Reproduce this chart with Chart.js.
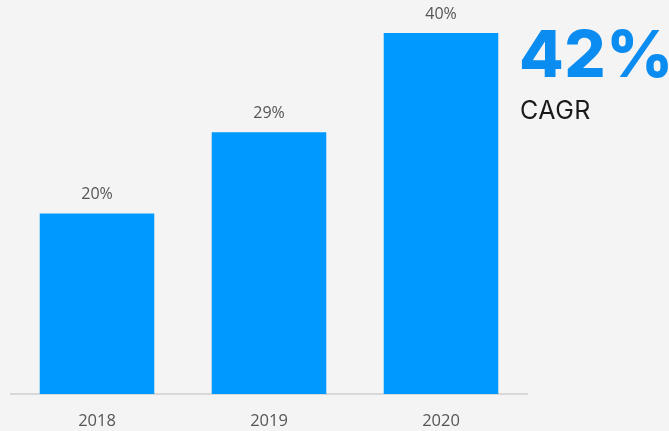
<!DOCTYPE html>
<html>
<head>
<meta charset="utf-8">
<script src="https://cdn.jsdelivr.net/npm/chart.js@4/dist/chart.umd.min.js"></script>
<style>
  html, body { margin: 0; padding: 0; background: #f4f4f4; }
  #wrap { position: relative; width: 669px; height: 431px; overflow: hidden; }
  #c { position: absolute; left: 0; top: 0; }
  .big { position: absolute; left: 519px; top: 15px; font-family: Inter, "Open Sans", sans-serif; font-weight: 800;
         font-size: 65px; line-height: 78px; color: #0b8cf0; letter-spacing: 0.5px; white-space: nowrap; }
  .sub { position: absolute; left: 520px; top: 94px; font-family: Inter, "Open Sans", sans-serif; font-weight: 400;
         font-size: 25px; line-height: 32px; color: #1a1a1a; letter-spacing: 0.5px; }
</style>
</head>
<body>
<div id="wrap">
  <canvas id="c" width="669" height="431"></canvas>
  <div class="big">42%</div>
  <div class="sub">CAGR</div>
</div>
<script>
// Growth by year, in percent
const years = ['2018', '2019', '2020'];
const growth = [20, 29, 40];

// Writes each bar's value just above it
const valueLabels = {
  id: 'valueLabels',
  afterDatasetsDraw(chart) {
    const ctx = chart.ctx;
    const meta = chart.getDatasetMeta(0);
    ctx.save();
    ctx.font = '16px "Open Sans", sans-serif';
    ctx.fillStyle = '#555555';
    ctx.textAlign = 'center';
    ctx.textBaseline = 'middle';
    meta.data.forEach((bar, i) => {
      ctx.fillText(growth[i] + '%', bar.x, bar.y - 19);
    });
    ctx.restore();
  }
};

new Chart(document.getElementById('c'), {
  type: 'bar',
  data: {
    labels: years,
    datasets: [{
      data: growth,
      backgroundColor: '#0099ff',
      borderWidth: 0,
      categoryPercentage: 1,
      barPercentage: 0.666
    }]
  },
  options: {
    responsive: false,
    animation: false,
    layout: { padding: { left: 11, right: 142, top: 0, bottom: 0 } },
    plugins: { legend: { display: false }, tooltip: { enabled: false } },
    scales: {
      x: {
        grid: { display: false },
        border: { display: true, color: '#d9d9d9', width: 2 },
        ticks: { color: '#555555', font: { family: '"Open Sans", sans-serif', size: 16.5 }, padding: 9 },
        afterFit(scale) { scale.height = 37; }
      },
      y: {
        display: false,
        min: 0,
        max: 43.66
      }
    }
  },
  plugins: [valueLabels]
});
</script>
</body>
</html>
